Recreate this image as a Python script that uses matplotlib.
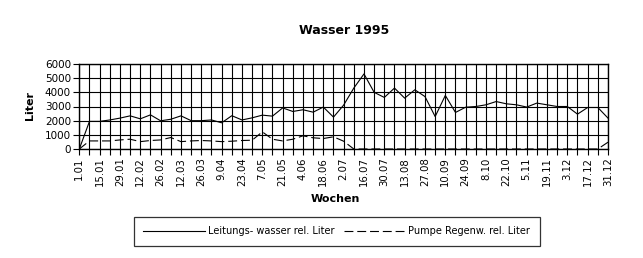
import matplotlib
matplotlib.use('Agg')
import matplotlib.pyplot as plt

# weekly readings 1995, 1.01 .. 31.12 (53 weeks)
leitungswasser = [0, 1950, 1950, 2050, 2180, 2340, 2130, 2410, 1990, 2100,
                  2340, 2000, 2000, 2050, 1850, 2350, 2050, 2200, 2390, 2320,
                  2900, 2650, 2770, 2600, 2960, 2250, 3100, 4300, 5300, 4000,
                  3640, 4300, 3590, 4180, 3700, 2290, 3780, 2580, 2950, 3000,
                  3120, 3350, 3190, 3120, 2960, 3240, 3120, 3000, 3000, 2460,
                  2930, 2930, 2180]
pumpe = [0, 570, 570, 570, 640, 690, 520, 600, 640, 810,
         520, 570, 600, 570, 520, 550, 600, 620, 1210, 690,
         570, 690, 930, 790, 740, 860, 550, 0, 0, 0,
         0, 0, 0, 0, 0, 0, 0, 0, 0, 0,
         0, 0, 0, 0, 0, 0, 0, 0, 0, 0,
         0, 0, 480]
week_labels = ['1.01', '15.01', '29.01', '12.02', '26.02', '12.03', '26.03',
               '9.04', '23.04', '7.05', '21.05', '4.06', '18.06', '2.07',
               '16.07', '30.07', '13.08', '27.08', '10.09', '24.09', '8.10',
               '22.10', '5.11', '19.11', '3.12', '17.12', '31.12']
y_ticks = [0, 1000, 2000, 3000, 4000, 5000, 6000]

W, H = 643, 258
fig = plt.figure(figsize=(W / 100, H / 100), dpi=100)
ax = fig.add_axes([79.3 / W, (H - 149) / H, (608 - 79.3) / W, (149 - 64) / H])
ax.set_axisbelow(True)

x = list(range(len(leitungswasser)))
l1, = ax.plot(x, leitungswasser, color='black', lw=0.8,
              label='Leitungs- wasser rel. Liter', zorder=2)
l2, = ax.plot(x, pumpe, color='black', lw=0.8, dashes=(8, 3.5),
              label='Pumpe Regenw. rel. Liter', zorder=2)

ax.set_xlim(0, len(x) - 1)
ax.set_ylim(0, 6000)
ax.set_xticks(x)
ax.set_xticklabels([week_labels[i // 2] if i % 2 == 0 else '' for i in x],
                   rotation=90, fontsize=7.3)
ax.set_yticks(y_ticks)
ax.set_yticklabels([str(v) for v in y_ticks], fontsize=7.5)
ax.tick_params(axis='both', direction='out', length=4, width=0.8,
               color='black', pad=2)
ax.grid(True, color='black', lw=0.8)
for s in ax.spines.values():
    s.set_linewidth(1.0)
    s.set_color('black')
    s.set_zorder(3)

fig.text(344 / W, 1 - 31 / H, 'Wasser 1995', ha='center', va='center',
         fontsize=9, fontweight='bold')
fig.text(30 / W, 1 - 105 / H, 'Liter', ha='center', va='center',
         rotation=90, fontsize=8, fontweight='bold')
fig.text(335 / W, 1 - 199 / H, 'Wochen', ha='center', va='center',
         fontsize=8, fontweight='bold')

leg = fig.legend(handles=[l1, l2], ncol=2, loc='center',
                 bbox_to_anchor=(336.7 / W, 1 - 231.3 / H),
                 fontsize=7, frameon=True, fancybox=False,
                 edgecolor='black', handlelength=6.3, handletextpad=0.3,
                 columnspacing=1.0, borderpad=1.0, borderaxespad=0)
leg.get_frame().set_linewidth(0.9)

fig.savefig('out.png', dpi=100)
